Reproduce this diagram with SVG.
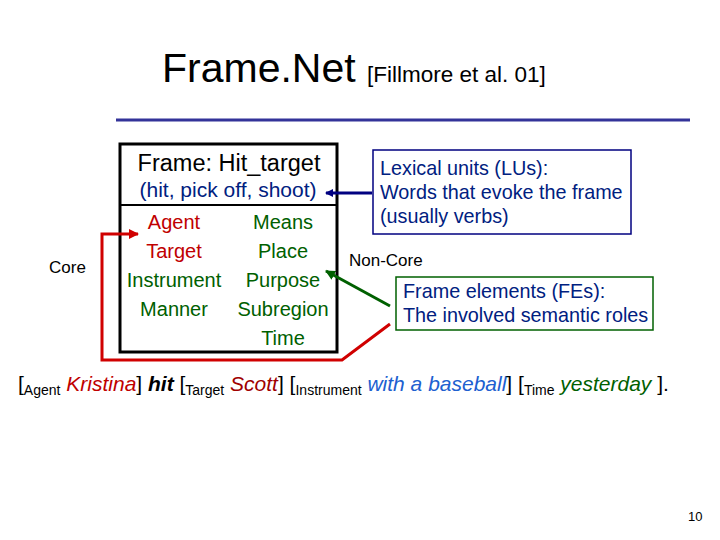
<svg xmlns="http://www.w3.org/2000/svg" width="720" height="540" viewBox="0 0 720 540">
<style>
text{font-family:"Liberation Sans",Arial,sans-serif}
.r{fill:#c00000}.g{fill:#006000}.b{fill:#002080}.k{fill:#000}
.fe{font-size:20px;text-anchor:middle}
.sub{font-size:14px}
</style>
<defs>
<marker id="mb" markerWidth="8" markerHeight="8" refX="7" refY="4" orient="auto" markerUnits="userSpaceOnUse"><path d="M0,0 L8,4 L0,8z" fill="#000080"/></marker>
<marker id="mg" markerWidth="10" markerHeight="10" refX="9" refY="5" orient="auto" markerUnits="userSpaceOnUse"><path d="M0,0 L10,5 L0,10z" fill="#006000"/></marker>
<marker id="mr" markerWidth="10" markerHeight="10" refX="9" refY="5" orient="auto" markerUnits="userSpaceOnUse"><path d="M0,0 L10,5 L0,10z" fill="#d00000"/></marker>
</defs>
<rect width="720" height="540" fill="#fff"/>
<g id="title">
<text x="162" y="82" font-size="41">Frame.Net <tspan font-size="22.5">[Fillmore et al. 01]</tspan></text>
<line x1="116" y1="120" x2="690" y2="120" stroke="#333399" stroke-width="3"/>
</g>
<g id="frame">
<rect x="120" y="144" width="217" height="208" fill="none" stroke="#000" stroke-width="3"/>
<line x1="120" y1="205" x2="337" y2="205" stroke="#000" stroke-width="2"/>
<text x="229" y="171" font-size="23.5" text-anchor="middle">Frame: Hit_target</text>
<text x="228" y="197" font-size="21" text-anchor="middle" class="b">(hit, pick off, shoot)</text>
<text x="174" y="229" class="fe r">Agent</text>
<text x="174" y="258" class="fe r">Target</text>
<text x="174" y="287" class="fe g">Instrument</text>
<text x="174" y="316" class="fe g">Manner</text>
<text x="283" y="229" class="fe g">Means</text>
<text x="283" y="258" class="fe g">Place</text>
<text x="283" y="287" class="fe g">Purpose</text>
<text x="283" y="316" class="fe g">Subregion</text>
<text x="283" y="345" class="fe g">Time</text>
</g>
<g id="core"><text x="49" y="273" font-size="17">Core</text></g>
<g id="noncore"><text x="349" y="266" font-size="17">Non-Core</text></g>
<g id="lu">
<rect x="373" y="150" width="258" height="84" fill="#fff" stroke="#000080" stroke-width="1.5"/>
<text x="380" y="175" font-size="19.8" class="b">Lexical units (LUs):</text>
<text x="380" y="199" font-size="19.8" class="b">Words that evoke the frame</text>
<text x="380" y="223" font-size="19.8" class="b">(usually verbs)</text>
</g>
<g id="fes">
<rect x="396" y="277" width="257" height="53" fill="#fff" stroke="#006000" stroke-width="1.5"/>
<text x="403" y="298" font-size="19.8" class="b">Frame elements (FEs):</text>
<text x="403" y="322" font-size="19.8" class="b">The involved semantic roles</text>
</g>
<g id="connectors" fill="none" stroke-width="3">
<line x1="372" y1="193" x2="326" y2="193" stroke="#000080" marker-end="url(#mb)"/>
<line x1="390" y1="306" x2="326" y2="271" stroke="#006000" marker-end="url(#mg)"/>
<polyline points="390,324 342,360 102,360 102,234 138,234" stroke="#d00000" marker-end="url(#mr)"/>
</g>
<g id="sentence">
<text x="18" y="391" font-size="21">[<tspan class="sub" dy="4">Agent</tspan><tspan dy="-4"> </tspan><tspan font-style="italic" fill="#c00000">Kristina</tspan>] <tspan font-weight="bold" font-style="italic">hit</tspan> [<tspan class="sub" dy="4">Target</tspan><tspan dy="-4"> </tspan><tspan font-style="italic" fill="#a00000">Scott</tspan>] [<tspan class="sub" dy="4">Instrument</tspan><tspan dy="-4"> </tspan><tspan font-style="italic" fill="#2060d0">with a baseball</tspan>] [<tspan class="sub" dy="4">Time</tspan><tspan dy="-4"> </tspan><tspan font-style="italic" fill="#006000">yesterday</tspan> ].</text>
</g>
<text x="688" y="521" font-size="13">10</text>
</svg>
